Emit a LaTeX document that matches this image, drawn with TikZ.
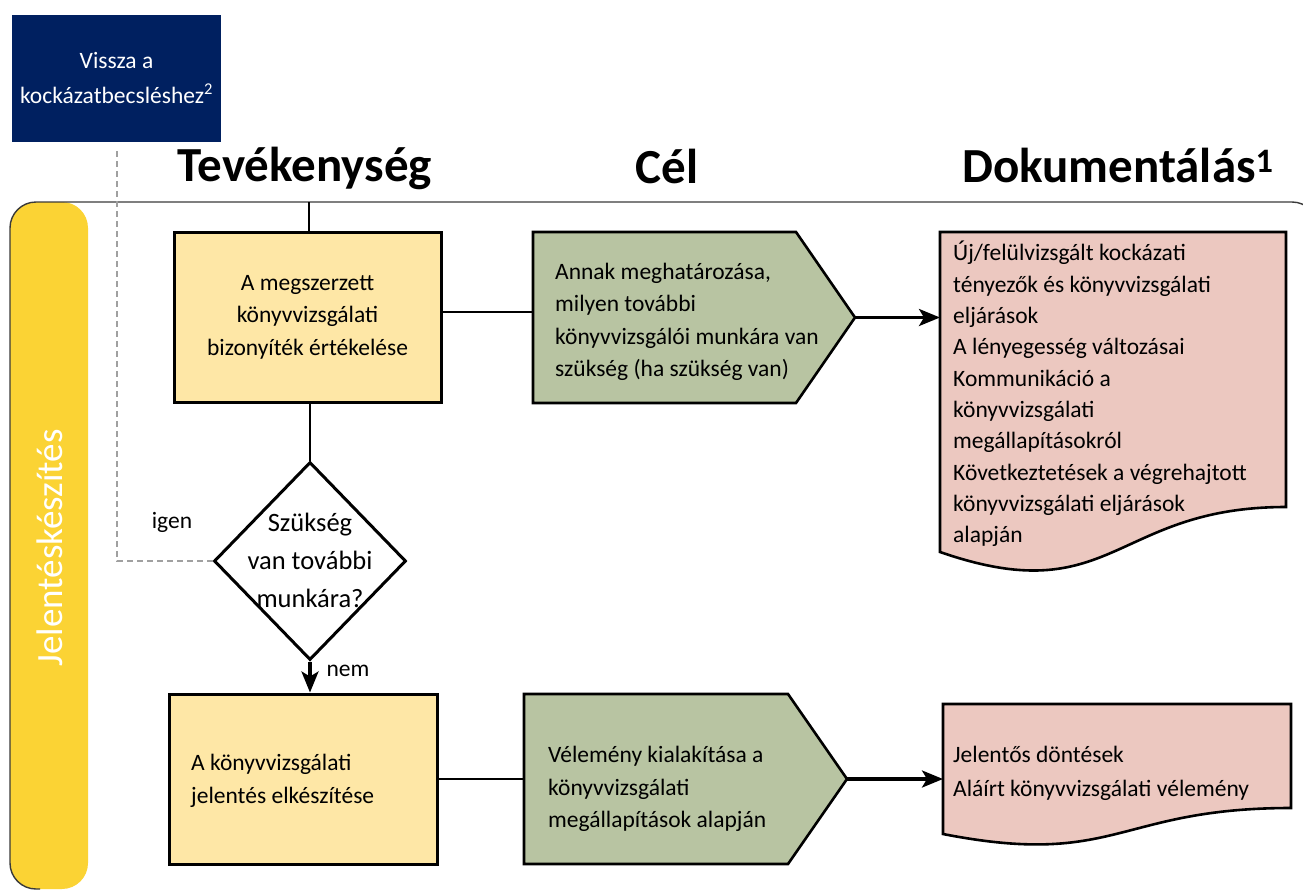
\documentclass[tikz,border=0pt]{standalone}
\usepackage{fontspec}
\setmainfont{Carlito}
\usetikzlibrary{arrows.meta,calc,shapes.geometric}

\definecolor{navyblue}{HTML}{002060}
\definecolor{laneyellow}{HTML}{FBD334}
\definecolor{actyellow}{HTML}{FEE7A6}
\definecolor{goalgreen}{HTML}{B8C4A2}
\definecolor{docpink}{HTML}{ECC8C0}
\definecolor{dashgray}{HTML}{A0A0A0}
\definecolor{laneline}{HTML}{3A3A3A}

\begin{document}
\begin{tikzpicture}[x=1pt,y=-1pt,
  bodyfont/.style={font=\fontsize{23.5}{32.5}\selectfont},
  hdr/.style={font=\bfseries\fontsize{49}{52}\selectfont, inner sep=0pt},
  actbox/.style={draw, line width=3pt, fill=actyellow, inner sep=0pt},
  anchorbox/.style={inner sep=0pt, outer sep=0pt},
  goalshape/.style={draw, line width=2.6pt, fill=goalgreen, line join=miter},
  docshape/.style={draw, line width=2.6pt, fill=docpink, line join=miter},
  plainlink/.style={line width=1.6pt},
  flowarrow/.style={line width=3.2pt, -{Stealth[length=21pt,width=17pt,inset=5pt]}},
  backlink/.style={line width=1.6pt, dashgray, dash pattern=on 6pt off 4pt},
  txt/.style={bodyfont, inner sep=0pt, align=left}
]
\useasboundingbox (0,0) rectangle (1303,891);

% swimlane: yellow title bar and lane outline
\node[anchorbox, fill=laneyellow, rounded corners=26pt,
      minimum width=78pt, minimum height=687pt] (bar) at (49,545.5) {};
\draw[laneline, line width=1.4pt, rounded corners=26pt]
  (40,889) -- (10,889) -- (10,202) -- (1318,202) -- (1318,905);
\node[rotate=90, text=white, font=\fontsize{37}{40}\selectfont, inner sep=0pt]
  (lanetitle) at (50,548) {Jelentéskészítés};

% return box
\node[anchorbox, fill=navyblue, minimum width=209pt, minimum height=127pt,
      text=white, align=center, font=\fontsize{23.5}{35}\selectfont]
  (back) at (116.5,78.5) {Vissza a\\kockázatbecsléshez\textsuperscript{2}};

% column headers
\node[hdr, anchor=base] (hact) at (305,181) {Tevékenység};
\node[hdr, anchor=base] (hgoal) at (667,183) {Cél};
\node[hdr, anchor=base] (hdoc) at (1118,182) {Dokumentálás\textsuperscript{1}};

% activities
\node[actbox, minimum width=267pt, minimum height=170pt, align=center, bodyfont]
  (act1) at (307.5,317) {A megszerzett\\könyvvizsgálati\\bizonyíték értékelése};
\node[actbox, minimum width=268pt, minimum height=170pt] (act2) at (303,779) {};
\node[txt, anchor=west] (act2t) at (191,781) {A könyvvizsgálati\\jelentés elkészítése};

% decision
\node[draw, diamond, line width=3pt, fill=white, inner sep=0pt,
      minimum width=192pt, minimum height=198pt] (dec) at (310,561) {};
\node[align=center, inner sep=0pt, font=\fontsize{26.5}{38}\selectfont]
  (dect) at (310,560) {Szükség\\van további\\munkára?};

% goals (pentagon arrows)
\node[anchorbox, minimum width=322pt, minimum height=171pt] (goal1) at (694,317.5) {};
\draw[goalshape] (goal1.north west) -- ([xshift=-59pt]goal1.north east)
  -- (goal1.east) -- ([xshift=-59pt]goal1.south east) -- (goal1.south west) -- cycle;
\node[txt, anchor=west] (goal1t) at (555,322)
  {Annak meghatározása,\\milyen további\\könyvvizsgálói munkára van\\szükség (ha szükség van)};

\node[anchorbox, minimum width=323pt, minimum height=170pt] (goal2) at (685.5,779) {};
\draw[goalshape] (goal2.north west) -- ([xshift=-59pt]goal2.north east)
  -- (goal2.east) -- ([xshift=-59pt]goal2.south east) -- (goal2.south west) -- cycle;
\node[txt, anchor=west] (goal2t) at (548,789)
  {Vélemény kialakítása a\\könyvvizsgálati\\megállapítások alapján};

% documents (wavy bottom)
\node[anchorbox, minimum width=346pt, minimum height=275pt] (doc1) at (1113,369.5) {};
\draw[docshape] (doc1.south east) -- (doc1.north east) -- (doc1.north west)
  -- ($(doc1.north west)+(0,320)$)
  .. controls ($(doc1.north)+(0,380)$) and ($(doc1.south)$) .. (doc1.south east) -- cycle;
\node[txt, anchor=west, font=\fontsize{23.5}{31.3}\selectfont] (doc1t) at (953,394)
  {Új/felülvizsgált kockázati\\tényezők és könyvvizsgálati\\eljárások\\A lényegesség változásai\\Kommunikáció a\\könyvvizsgálati\\megállapításokról\\Következtetések a végrehajtott\\könyvvizsgálati eljárások\\alapján};

\node[anchorbox, minimum width=348pt, minimum height=104pt] (doc2) at (1117,756) {};
\draw[docshape] (doc2.south east) -- (doc2.north east) -- (doc2.north west)
  -- ($(doc2.north west)+(0,130)$)
  .. controls ($(doc2.north)+(0,164)$) and (doc2.south) .. (doc2.south east) -- cycle;
\node[txt, anchor=west, font=\fontsize{23.5}{34}\selectfont] (doc2t) at (953,773)
  {Jelentős döntések\\Aláírt könyvvizsgálati vélemény};

% connectors
\coordinate (lanetop) at (309,202);
\coordinate (backend) at (117,150);
\draw[plainlink] (lanetop) -- (lanetop |- act1.north);
\draw[plainlink] (dec.north |- act1.south) -- (dec.north);
\draw[plainlink] ([yshift=5pt]act1.east) -- ([yshift=5pt]act1.east -| goal1.west);
\draw[plainlink] (act2.east) -- (act2.east -| goal2.west);
\draw[flowarrow] (goal1.east) -- (goal1.east -| doc1.west);
\draw[flowarrow] (goal2.east) -- (goal2.east -| doc2.west);
\draw[flowarrow] (dec.south) -- (dec.south |- act2.north);
\draw[backlink] (dec.west) -| (backend);

% branch labels
\node[bodyfont, inner sep=0pt] (yes) at (172,522) {igen};
\node[bodyfont, inner sep=0pt] (no) at (348,671) {nem};
\end{tikzpicture}
\end{document}
